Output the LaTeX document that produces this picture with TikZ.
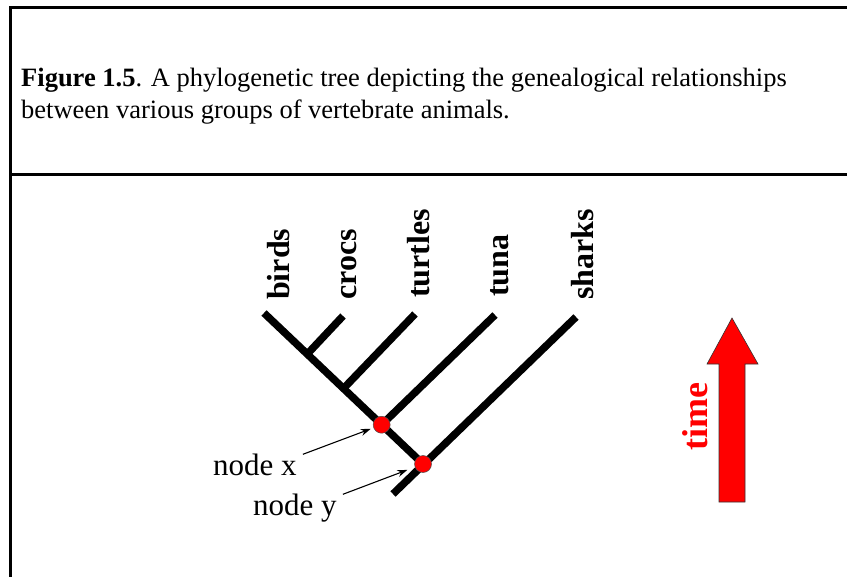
\documentclass[tikz,border=0pt]{standalone}
\usepackage{fontspec}
\setmainfont{Liberation Serif}
\usetikzlibrary{arrows.meta,calc}
\begin{document}
\begin{tikzpicture}[x=1bp,y=-1bp,
  frame/.style={line width=3bp,black},
  caption/.style={inner sep=0pt,anchor=base west,font=\fontsize{26.5bp}{32bp}\selectfont},
  taxon/.style={inner sep=0pt,anchor=base west,rotate=90,font=\fontsize{32bp}{36bp}\selectfont\bfseries},
  branch/.style={line width=7.5bp,black,line cap=butt},
  dot/.style={circle,fill=red,draw=black!70,line width=0.5bp,minimum size=17bp,inner sep=0pt},
  nlabel/.style={inner sep=0pt,anchor=base west,font=\fontsize{31bp}{34bp}\selectfont},
  ptr/.style={line width=1.1bp,black,-{Stealth[length=10bp,width=7bp]}},
  timearrow/.style={fill=red,draw=black!80,line width=0.6bp}
]
\useasboundingbox (0,0) rectangle (847,577);
% frame
\draw[frame] (10.5,580) -- (10.5,7.5) -- (850,7.5);
\draw[frame] (10.5,174.5) -- (850,174.5);
% caption
\node[caption] (cap1) at (21,87) {\textbf{Figure 1.5}. A phylogenetic tree depicting the genealogical relationships};
\node[caption] (cap2) at (21,119) {between various groups of vertebrate animals.};
% tip coordinates
\coordinate (tb) at (264,313);
\coordinate (tc) at (343,316);
\coordinate (tt) at (415,314);
\coordinate (tu) at (495,315);
\coordinate (ts) at (576,317);
\coordinate (root) at (393,494);
\coordinate (ny) at (423,464);
\coordinate (jc) at ($(tb)!0.272!(ny)$);
\coordinate (jt) at ($(tb)!0.50!(ny)$);
\coordinate (nx) at ($(tb)!0.74!(ny)$);
% branches
\draw[branch] (tb) -- (ny);
\draw[branch] (tc) -- (jc);
\draw[branch] (tt) -- (jt);
\draw[branch] (tu) -- (nx);
\draw[branch] (ts) -- (root);
% nodes
\node[dot] (dx) at (nx) {};
\node[dot] (dy) at (ny) {};
% taxon labels
\node[taxon] (lb) at (289,300) {birds};
\node[taxon] (lc) at (356,300) {crocs};
\node[taxon] (lt) at (429,298) {turtles};
\node[taxon] (lu) at (508,297) {tuna};
\node[taxon] (ls) at (593,300) {sharks};
% node labels
\node[nlabel] (nxl) at (213,475) {node x};
\node[nlabel] (nyl) at (253,515) {node y};
\draw[ptr,shorten >=3bp] ([shift={(6bp,-1bp)}]nxl.north east) -- (dx);
\draw[ptr,shorten >=8bp] ([shift={(6bp,-1bp)}]nyl.north east) -- (dy);
% time arrow
\draw[timearrow] (719,502) -- (745,502) -- (745,364) -- (758,364) -- (732,318) -- (707,364) -- (719,364) -- cycle;
\node[inner sep=0pt,anchor=base,rotate=90,text=red,font=\fontsize{36bp}{40bp}\selectfont\bfseries] (tl) at (707,417) {time};
\end{tikzpicture}
\end{document}
